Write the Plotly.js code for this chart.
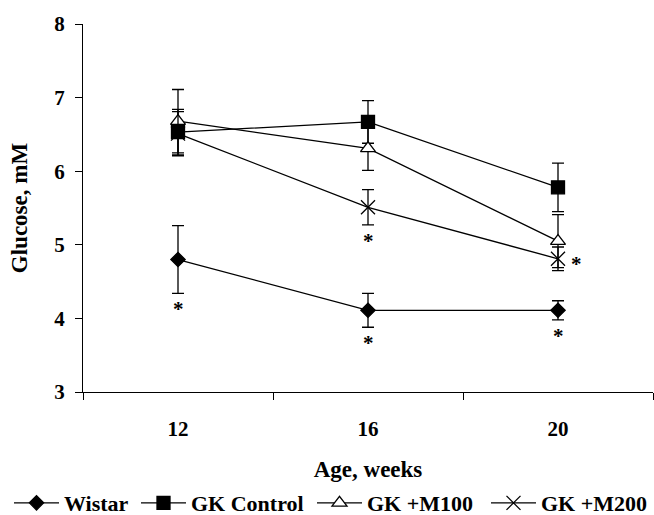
<!DOCTYPE html>
<html>
<head>
<meta charset="utf-8">
<script src="https://cdn.plot.ly/plotly-3.0.1.min.js"></script>
<style>html,body{margin:0;padding:0;background:#fff}#chart{width:654px;height:515px}</style>
</head>
<body>
<div id="chart"></div>
<script>
// Categories (age in weeks)
const ages = ['12', '16', '20'];
// Series means (glucose, mM)
const wistar    = [4.80, 4.11, 4.11];
const gkControl = [6.53, 6.67, 5.78];
const gkM100    = [6.68, 6.31, 5.05];
const gkM200    = [6.51, 5.51, 4.81];
// Error bars
const wistarErr    = [0.46, 0.23, 0.13];
const gkControlErr = [0.31, 0.29, 0.33];
const gkM100Err    = [0.43, 0.30, 0.36];
const gkM200Err    = [0.30, 0.24, 0.16];
// Significance marks: '' none, 'below' under the error bar, 'right' beside the point
const wistarSig = ['below', 'below', 'below'];
const gkM200Sig = ['', 'below', 'right'];
// Legend names
const names = ['Wistar', 'GK Control', 'GK +M100', 'GK +M200'];

const FONT = 'Liberation Serif, Times New Roman, serif';
const LW = 1.3;
const W = 654;

function trace(name, y, err, marker, legendId) {
  return {
    type: 'scatter', mode: 'lines+markers', name: name, legend: legendId,
    x: ages, y: y,
    line: {color: '#000', width: LW},
    marker: Object.assign({color: '#000', line: {color: '#000', width: LW}}, marker),
    error_y: {type: 'data', array: err, visible: true, color: '#000', thickness: LW, width: 6},
    cliponaxis: false
  };
}

const data = [
  trace(names[0], wistar, wistarErr, {symbol: 'diamond', size: 11}, 'legend'),
  trace(names[1], gkControl, gkControlErr, {symbol: 'square', size: 13}, 'legend2'),
  trace(names[2], gkM100, gkM100Err, {symbol: 'triangle-up', size: 13, color: '#fff'}, 'legend3'),
  trace(names[3], gkM200, gkM200Err, {symbol: 'x-thin', size: 14}, 'legend4')
];

const annotations = [];
function addSig(sig, y, err) {
  sig.forEach((s, i) => {
    if (!s) return;
    const a = {xref: 'x', yref: 'y', x: i, text: '*', showarrow: false,
      font: {family: FONT, size: 21, color: '#000', weight: 'bold'}};
    if (s === 'below') { a.y = y[i] - err[i]; a.yanchor = 'top'; a.yshift = -2; }
    else { a.y = y[i]; a.xanchor = 'left'; a.xshift = 11; a.yanchor = 'middle'; a.yshift = -5; }
    annotations.push(a);
  });
}
addSig(wistarSig, wistar, wistarErr);
addSig(gkM200Sig, gkM200, gkM200Err);

function legendAt(px) {
  return {
    orientation: 'h', xref: 'container', yref: 'container',
    x: px / W, xanchor: 'left', y: 0.064, yanchor: 'top',
    font: {family: FONT, size: 22, weight: 'bold'},
    itemwidth: 45, bgcolor: 'rgba(0,0,0,0)'
  };
}

const layout = {
  width: W, height: 515,
  margin: {l: 83, r: 1, t: 24, b: 123},
  paper_bgcolor: '#fff', plot_bgcolor: '#fff',
  font: {family: FONT, size: 21, color: '#000'},
  showlegend: true,
  xaxis: {
    type: 'category', range: [-0.5, 2.5], tickson: 'boundaries',
    ticks: 'outside', ticklen: 7, tickcolor: '#000', tickwidth: 1,
    showline: true, linecolor: '#000', linewidth: 1,
    showgrid: false, zeroline: false, fixedrange: true,
    tickfont: {family: FONT, size: 21, weight: 'bold'},
    ticklabelstandoff: 18,
    title: {text: 'Age, weeks', font: {family: FONT, size: 23, weight: 'bold'}, standoff: 20}
  },
  yaxis: {
    range: [3, 8], dtick: 1, tick0: 3,
    ticks: 'outside', ticklen: 7, tickcolor: '#000', tickwidth: 1,
    showline: true, linecolor: '#000', linewidth: 1,
    showgrid: false, zeroline: false, fixedrange: true,
    tickfont: {family: FONT, size: 21, weight: 'bold'},
    ticklabelstandoff: 6,
    title: {text: 'Glucose, mM', font: {family: FONT, size: 23, weight: 'bold'}, standoff: 20}
  },
  legend: legendAt(9),
  legend2: legendAt(136),
  legend3: legendAt(312),
  legend4: legendAt(486),
  annotations: annotations
};

Plotly.newPlot('chart', data, layout, {displayModeBar: false, staticPlot: true});
</script>
</body>
</html>
